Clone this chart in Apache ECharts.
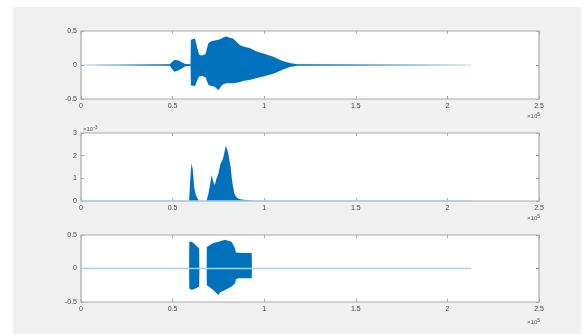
<!DOCTYPE html>
<html>
<head>
<meta charset="utf-8">
<script src="https://cdn.jsdelivr.net/npm/echarts@6.0.0/dist/echarts.min.js"></script>
<style>
  html, body { margin: 0; padding: 0; background: #fff; }
  #panel { position: absolute; left: 13px; top: 7px; width: 568px; height: 327px; background: #f0f0f0; }
  #main { position: absolute; left: 0; top: 0; width: 587px; height: 334px; }
</style>
</head>
<body>
<div id="panel"></div>
<div id="main"></div>
<script>
// 信号长度（采样点）
const signalLength = 213000;
const xTicks = [0, 50000, 100000, 150000, 200000, 250000];

// 子图1：原始语音波形包络
const wavT = [0, 48500, 49500, 51000, 53000, 55000, 57000, 57800, 59800, 60000, 61000, 62200, 63500, 64500, 66000, 68000, 69500, 71000, 73000, 75000, 76800, 78000, 79500, 81000, 83000, 85000, 86800, 89000, 92000, 96000, 99500, 105000, 110000, 114000, 118000, 213000];
const wavUpper = [0, 0.01, 0.04, 0.074, 0.07, 0.04, 0.015, 0.01, 0.01, 0.37, 0.39, 0.39, 0.25, 0.15, 0.14, 0.16, 0.32, 0.35, 0.36, 0.37, 0.39, 0.41, 0.42, 0.40, 0.39, 0.34, 0.29, 0.27, 0.25, 0.20, 0.17, 0.12, 0.06, 0.03, 0.01, 0];
const wavLower = [0, -0.01, -0.05, -0.098, -0.08, -0.05, -0.02, -0.01, -0.01, -0.30, -0.32, -0.31, -0.22, -0.17, -0.16, -0.18, -0.29, -0.31, -0.32, -0.37, -0.30, -0.28, -0.27, -0.27, -0.27, -0.26, -0.25, -0.23, -0.22, -0.19, -0.17, -0.13, -0.07, -0.03, -0.01, 0];

// 子图2：短时能量
const energyT = [0, 59000, 59600, 60300, 61000, 61800, 62600, 63500, 64500, 68500, 69500, 70400, 71300, 72200, 73000, 74000, 75000, 76000, 76800, 77600, 78400, 79000, 79700, 80400, 81000, 81700, 82300, 82900, 83600, 84500, 86000, 88500, 92000, 94000, 213000];
const energy = [0, 0, 0.0009, 0.00166, 0.0014, 0.0006, 0.0003, 0.00012, 0, 0, 0.0003, 0.0007, 0.00115, 0.00085, 0.0007, 0.001, 0.0012, 0.0016, 0.00175, 0.0019, 0.0022, 0.00244, 0.0023, 0.0021, 0.0018, 0.0015, 0.001, 0.0007, 0.00035, 0.0002, 0.0001, 0.00005, 0.00003, 0, 0];
const energyTicks = [0, 0.001, 0.002, 0.003];

// 子图3：端点检测后的语音段
const segT = [0, 59000, 59100, 60500, 62500, 64500, 64600, 68600, 68700, 69500, 72200, 75000, 75900, 78600, 82200, 84100, 84600, 85900, 90400, 93200, 93300, 213000];
const segUpper = [0, 0, 0.40, 0.40, 0.35, 0.30, 0, 0, 0.32, 0.33, 0.38, 0.40, 0.41, 0.43, 0.40, 0.30, 0.24, 0.236, 0.23, 0.23, 0, 0];
const segLower = [0, 0, -0.30, -0.32, -0.30, -0.27, 0, 0, -0.25, -0.27, -0.32, -0.40, -0.36, -0.32, -0.27, -0.22, -0.16, -0.146, -0.146, -0.146, 0, 0];
const ampTicks = [-0.5, 0, 0.5];

const blue = '#0072BD';
const frame = '#a9a9a9';
const grids = [
  { left: 81, right: 48, top: 31, height: 68 },
  { left: 81, right: 48, top: 133, height: 68 },
  { left: 81, right: 48, top: 235, height: 67 }
];

function pairs(t, v) { return t.map((x, i) => [x, v[i]]); }

const chart = echarts.init(document.getElementById('main'));

const xAxes = [], yAxes = [];
grids.forEach((g, i) => {
  const tick = { show: true, inside: true, length: 3, lineStyle: { color: frame } };
  const noLine = { show: false, onZero: false };
  xAxes.push({
    type: 'value', gridIndex: i, position: 'bottom', min: 0, max: 250000, interval: 50000,
    axisLine: noLine, axisTick: tick, splitLine: { show: false },
    axisLabel: { fontSize: 7, color: '#444', margin: 4, formatter: v => String(v / 1e5) }
  });
  xAxes.push({
    type: 'value', gridIndex: i, position: 'top', min: 0, max: 250000, interval: 50000,
    axisLine: noLine, axisTick: tick, splitLine: { show: false }, axisLabel: { show: false }
  });
  const isEnergy = i === 1;
  const ticks = isEnergy ? energyTicks : ampTicks;
  yAxes.push({
    type: 'value', gridIndex: i, position: 'left',
    min: ticks[0], max: ticks[ticks.length - 1], interval: ticks[1] - ticks[0],
    axisLine: noLine, axisTick: tick, splitLine: { show: false },
    axisLabel: { fontSize: 7, color: '#444', margin: 4,
      formatter: v => isEnergy ? String(Math.round(v * 1000)) : String(Math.round(v * 10) / 10) }
  });
  yAxes.push({
    type: 'value', gridIndex: i, position: 'right',
    min: ticks[0], max: ticks[ticks.length - 1], interval: ticks[1] - ticks[0],
    axisLine: noLine, axisTick: tick, splitLine: { show: false }, axisLabel: { show: false }
  });
});

function area(xi, yi, t, v) {
  return {
    type: 'line', xAxisIndex: xi, yAxisIndex: yi, data: pairs(t, v),
    symbol: 'none', silent: true,
    lineStyle: { width: 0 },
    areaStyle: { color: blue, opacity: 1 }
  };
}
function baseline(xi, yi, color, width) {
  return {
    type: 'line', xAxisIndex: xi, yAxisIndex: yi, data: [[0, 0], [signalLength, 0]],
    symbol: 'none', silent: true, lineStyle: { color: color, width: width }
  };
}

const expText = (x, y, sup, align) => ({
  type: 'text', left: align === 'right' ? undefined : x, right: align === 'right' ? x : undefined, top: y,
  style: {
    text: '×10{s|' + sup + '}', fill: '#555', font: '6px Arial',
    rich: { s: { fontSize: 5, fill: '#555', verticalAlign: 'top', padding: [0, 0, 3, 0] } }
  }
});

chart.setOption({
  animation: false,
  backgroundColor: 'transparent',
  grid: grids.map(g => Object.assign({ show: true, backgroundColor: '#fff', borderColor: frame, borderWidth: 1.2 }, g)),
  xAxis: xAxes,
  yAxis: yAxes,
  series: [
    baseline(0, 0, 'rgba(0,114,189,0.45)', 0.6),
    area(0, 0, wavT, wavUpper),
    area(0, 0, wavT, wavLower),
    baseline(2, 2, '#a9cfee', 1.5),
    area(2, 2, energyT, energy),
    baseline(4, 4, '#a9cfee', 1.5),
    area(4, 4, segT, segUpper),
    area(4, 4, segT, segLower)
  ],
  graphic: [
    expText(47, 112, '5', 'right'),
    expText(83, 125, '-3', 'left'),
    expText(47, 214, '5', 'right'),
    expText(47, 318, '5', 'right')
  ]
});
</script>
</body>
</html>
